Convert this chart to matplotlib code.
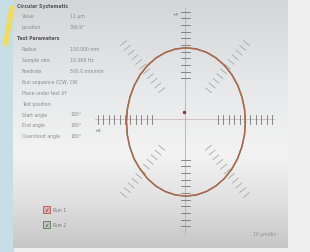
import numpy as np
import matplotlib
matplotlib.use("Agg")
import matplotlib.pyplot as plt
from matplotlib.patches import Rectangle
from matplotlib.colors import LinearSegmentedColormap

# ---------------- data ----------------
angles_deg = [0, 10, 20, 30, 40, 50, 60, 70, 80, 90, 100, 110, 120, 130, 140, 150, 160, 170,
              180, 190, 200, 210, 220, 230, 240, 250, 260, 270, 280, 290, 300, 310, 320, 330, 340, 350]
run1_radius = [9.90, 9.92, 9.94, 9.95, 9.97, 9.99, 10.00, 10.01, 10.02, 10.02, 10.01, 10.00, 9.98,
               9.96, 9.94, 9.93, 9.92, 9.91, 9.90, 9.92, 9.95, 9.97, 9.93, 9.98, 10.00, 10.02, 10.01,
               10.02, 10.01, 10.00, 9.99, 9.97, 9.95, 9.93, 9.92, 9.91]
run2_radius = [9.91, 9.93, 9.93, 9.96, 9.98, 9.99, 10.01, 10.02, 10.02, 10.03, 10.01, 9.99, 9.98,
               9.97, 9.95, 9.92, 9.91, 9.92, 9.91, 9.93, 9.94, 9.98, 9.95, 9.97, 10.01, 10.01, 10.02,
               10.03, 10.02, 10.00, 9.98, 9.98, 9.96, 9.94, 9.91, 9.92]
centre_offset = (0.15, -0.40)
tick_radii = [5.5, 6.4, 7.3, 8.2, 9.1, 10.0, 10.9, 11.8, 12.7, 13.6, 14.5]
axis_directions = [0, 90, 180, 270]
diag_directions = [45, 135, 225, 315]

info_rows = [
    ("Circular Systematic", "", True),
    ("Value", "11 µm", False),
    ("Location", "336.9°", False),
    ("Test Parameters", "", True),
    ("Radius", "150.000 mm", False),
    ("Sample rate", "10.368 Hz", False),
    ("Feedrate", "500.0 mm/min", False),
    ("Run sequence CCW, CW", "", False),
    ("Plane under test XY", "", False),
    ("Test position", "", False),
    ("Start angle", "180°", False),
    ("End angle", "180°", False),
    ("Overshoot angle", "180°", False),
]
legend_labels = ["Run 1", "Run 2"]
scale_label = "10 µm/div"

# ---------------- figure ----------------
W, H = 310, 253
fig = plt.figure(figsize=(W / 100, H / 100), dpi=100)
bg = fig.add_axes([0, 0, 1, 1])
bg.set_xlim(0, W)
bg.set_ylim(H, 0)
bg.axis("off")

bg.add_patch(Rectangle((0, 0), W, H, color="#eeeeee", zorder=0))
bg.add_patch(Rectangle((0, 0), 13, H, color="#c8dee7", zorder=1))
bg.plot([12.0, 5.5], [9, 45], color="#f0dc55", lw=3.6, solid_capstyle="round", zorder=2)

cmap = LinearSegmentedColormap.from_list(
    "panel", [(0, "#d4d5d7"), (0.35, "#e7e8e9"), (0.62, "#f3f3f3"), (0.8, "#e2e2e2"), (1, "#c6c6c6")])
grad = np.linspace(0, 1, 256).reshape(-1, 1)
bg.imshow(grad, cmap=cmap, extent=(13, 288, 249, 0), aspect="auto", zorder=1)

y0, dy = 6, 10.9
for i, (lab, val, head) in enumerate(info_rows):
    y = y0 + i * dy
    if head:
        bg.text(17, y, lab, fontsize=3.3, color="#555555", fontweight="bold", va="center", zorder=5)
    else:
        bg.text(22, y, lab, fontsize=3.3, color="#8a8a8a", va="center", zorder=5)
        if val:
            bg.text(70, y, val, fontsize=3.3, color="#8a8a8a", va="center", zorder=5)

box_cols = [("#dcb0b0", "#c05050"), ("#bcc5b9", "#5a7a55")]
for i, lab in enumerate(legend_labels):
    yb = 207 + i * 15
    bg.add_patch(Rectangle((43, yb), 7, 7, facecolor=box_cols[i][0], edgecolor=box_cols[i][1], lw=0.6, zorder=5))
    bg.text(46.5, yb + 3.6, "✓", fontsize=4, color="#333333", ha="center", va="center", zorder=6)
    bg.text(53, yb + 3.6, lab, fontsize=3.3, color="#777777", va="center", zorder=6)

bg.text(253, 235, scale_label, fontsize=3.3, color="#8e8e8e", va="center", zorder=5)

# ---------------- plot axes ----------------
sx, sy = 6.0, 7.4            # px per data unit
cx_px, cy_px = 185, 120
xl = (-15, 15)
yl = (-16, 15)
left = (cx_px + xl[0] * sx) / W
width = (xl[1] - xl[0]) * sx / W
top_px = cy_px - yl[1] * sy
bot_px = cy_px - yl[0] * sy
ax = fig.add_axes([left, (H - bot_px) / H, width, (bot_px - top_px) / H])
ax.set_xlim(*xl)
ax.set_ylim(*yl)
ax.axis("off")
ax.patch.set_alpha(0)

ax.plot([-15, 15], [0, 0], color="#cdb9b9", lw=0.6, zorder=2)
ax.plot([0, 0], [-15.5, 15], color="#c7a9a9", lw=0.6, zorder=2)


def draw_ticks(dirs, half_px, color, lw):
    for d in dirs:
        a = np.deg2rad(d)
        ux, uy = np.cos(a), np.sin(a)
        # perpendicular in pixel space
        px_, py_ = ux * sx, uy * sy
        n = np.hypot(px_, py_)
        qx, qy = -py_ / n, px_ / n
        hx, hy = qx * half_px / sx, qy * half_px / sy
        for r in tick_radii:
            x, y = r * ux, r * uy
            ax.plot([x - hx, x + hx], [y - hy, y + hy], color=color, lw=lw, zorder=3)


draw_ticks(axis_directions, 4.5, "#767676", 0.6)
draw_ticks(diag_directions, 3.8, "#a8a8a8", 0.6)

th = np.deg2rad(angles_deg + [angles_deg[0]])
r1 = np.array(run1_radius + [run1_radius[0]])
r2 = np.array(run2_radius + [run2_radius[0]])
ax.plot(centre_offset[0] + r2 * np.cos(th), centre_offset[1] + r2 * np.sin(th),
        color="#6f7a55", lw=1.1, zorder=4)
ax.plot(centre_offset[0] + r1 * np.cos(th), centre_offset[1] + r1 * np.sin(th),
        color="#b8664c", lw=0.9, zorder=5)

ax.plot([-0.2], [1.0], marker="o", ms=1.5, color="#8a3a3a", zorder=6)
ax.text(-1.6, 14.2, "+Y", fontsize=3.2, color="#555555", ha="center", va="center")
ax.text(-14.6, -1.5, "+X", fontsize=3.2, color="#555555", ha="center", va="center")

fig.savefig("out.png", dpi=100)
